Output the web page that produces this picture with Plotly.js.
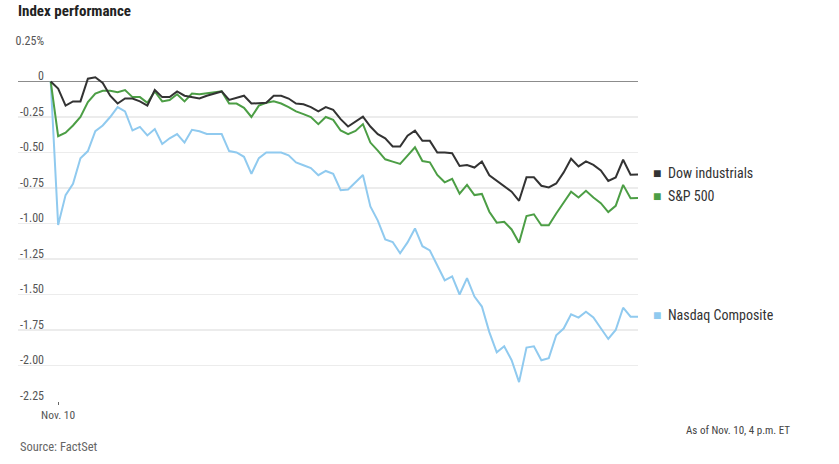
<!DOCTYPE html>
<html>
<head>
<meta charset="utf-8">
<script src="https://cdn.plot.ly/plotly-3.0.1.min.js"></script>
<style>
  html, body { margin: 0; padding: 0; background: #fff; }
  #chart { width: 839px; height: 464px; }
</style>
</head>
<body>
<div id="chart"></div>
<script>
// ---- data (percent change) ----
const seriesNames = ["Dow industrials", "S&P 500", "Nasdaq Composite"];

const dow = [0, -0.05, -0.17, -0.14, -0.14, 0.02, 0.03, -0.01, -0.10, -0.155,
  -0.12, -0.12, -0.14, -0.17, -0.06, -0.11, -0.11, -0.07, -0.10, -0.11,
  -0.12, -0.10, -0.085, -0.07, -0.13, -0.115, -0.10, -0.155, -0.15, -0.15,
  -0.10, -0.10, -0.12, -0.155, -0.16, -0.18, -0.21, -0.18, -0.20, -0.265,
  -0.317, -0.282, -0.247, -0.317, -0.371, -0.40, -0.458, -0.458, -0.381, -0.346,
  -0.418, -0.418, -0.50, -0.50, -0.505, -0.595, -0.588, -0.606, -0.564, -0.66,
  -0.70, -0.74, -0.776, -0.84, -0.675, -0.675, -0.734, -0.746, -0.718, -0.64,
  -0.544, -0.598, -0.563, -0.587, -0.627, -0.70, -0.676, -0.551, -0.657, -0.655];

const sp500 = [0, -0.385, -0.36, -0.31, -0.25, -0.145, -0.085, -0.065, -0.065, -0.075,
  -0.06, -0.11, -0.11, -0.15, -0.07, -0.14, -0.13, -0.09, -0.14, -0.085,
  -0.09, -0.085, -0.08, -0.07, -0.155, -0.155, -0.185, -0.25, -0.17, -0.15,
  -0.14, -0.155, -0.18, -0.21, -0.23, -0.25, -0.30, -0.25, -0.27, -0.345,
  -0.371, -0.348, -0.30, -0.43, -0.487, -0.548, -0.564, -0.58, -0.522, -0.463,
  -0.56, -0.569, -0.658, -0.71, -0.686, -0.79, -0.728, -0.80, -0.792, -0.917,
  -0.994, -0.988, -1.042, -1.135, -0.947, -0.935, -1.012, -1.012, -0.93, -0.853,
  -0.776, -0.817, -0.77, -0.817, -0.857, -0.92, -0.876, -0.728, -0.822, -0.82];

const nasdaq = [0, -1.01, -0.80, -0.72, -0.54, -0.49, -0.35, -0.31, -0.25, -0.18,
  -0.21, -0.345, -0.32, -0.38, -0.335, -0.44, -0.40, -0.37, -0.43, -0.34,
  -0.35, -0.37, -0.37, -0.37, -0.49, -0.50, -0.53, -0.65, -0.54, -0.50,
  -0.50, -0.50, -0.52, -0.57, -0.59, -0.61, -0.66, -0.63, -0.65, -0.765,
  -0.76, -0.71, -0.658, -0.88, -0.98, -1.112, -1.13, -1.21, -1.133, -1.035,
  -1.16, -1.19, -1.295, -1.40, -1.372, -1.50, -1.385, -1.515, -1.585, -1.765,
  -1.907, -1.865, -1.963, -2.117, -1.874, -1.865, -1.963, -1.948, -1.787, -1.74,
  -1.64, -1.663, -1.621, -1.661, -1.738, -1.813, -1.75, -1.593, -1.656, -1.656];

const yTickVals = [0.25, 0, -0.25, -0.5, -0.75, -1.0, -1.25, -1.5, -1.75, -2.0, -2.25];
const yTickText = ["0.25%", "0", "-0.25", "-0.50", "-0.75", "-1.00", "-1.25", "-1.50", "-1.75", "-2.00", "-2.25"];
const xTickVals = [1];
const xTickText = ["Nov. 10"];

// ---- styling ----
const FONT = "'Liberation Sans Narrow', 'Roboto Condensed', Roboto, sans-serif";
const colors = ["#333333", "#4c9e45", "#90caef"];

const idx = dow.map((_, i) => i);
const allSeries = [dow, sp500, nasdaq];

// draw Nasdaq first, Dow on top
const order = [2, 1, 0];
const traces = order.map(k => ({
  type: "scatter",
  mode: "lines",
  x: idx,
  y: allSeries[k],
  name: seriesNames[k],
  line: { color: colors[k], width: 2 },
  hoverinfo: "skip",
  showlegend: false
}));

const last = idx.length - 1;
const labelAnnots = allSeries.map((s, k) => ({
  xref: "x", yref: "y",
  x: last, y: s[last],
  xanchor: "left", yanchor: "middle",
  xshift: 13, yshift: 2,
  showarrow: false,
  align: "left",
  text: '<span style="color:' + colors[k] + '">■</span>  ' + seriesNames[k],
  font: { family: FONT, size: 14, color: "#333" }
}));

const layout = {
  width: 839, height: 464,
  margin: { l: 18, r: 201, t: 46, b: 63, pad: 0 },
  paper_bgcolor: "#fff", plot_bgcolor: "#fff",
  font: { family: FONT, color: "#555" },
  title: {
    text: "<b>Index performance</b>",
    x: 0, xref: "paper", xanchor: "left",
    y: 0.988, yref: "container", yanchor: "top",
    font: { family: FONT, size: 15, color: "#222" }
  },
  xaxis: {
    range: [-4.4, last],
    tickvals: xTickVals, ticktext: xTickText,
    ticks: "outside", ticklen: 3, tickwidth: 1, tickcolor: "#666",
    showgrid: false, zeroline: false, showline: false,
    tickfont: { family: FONT, size: 11.5, color: "#555" },
    fixedrange: true
  },
  yaxis: {
    range: [-2.25, 0.25],
    tickvals: yTickVals, ticktext: yTickText,
    anchor: "free", position: 26 / 620,
    ticklabelposition: "outside top",
    ticklabelshift: 3,
    ticks: "", showline: false,
    showgrid: true, gridcolor: "#ececec", gridwidth: 1.5,
    zeroline: true, zerolinecolor: "#8c8c8c", zerolinewidth: 1.5,
    tickfont: { family: FONT, size: 12, color: "#555" },
    automargin: false,
    fixedrange: true
  },
  annotations: labelAnnots.concat([
    {
      xref: "paper", yref: "paper", x: 0, y: -0.127,
      xanchor: "left", yanchor: "middle", showarrow: false,
      text: "Source: FactSet",
      font: { family: FONT, size: 12.5, color: "#666" }
    },
    {
      xref: "paper", yref: "paper", x: (791.7 - 18) / 620, y: -0.0845,
      xanchor: "right", yanchor: "middle", showarrow: false,
      text: "As of Nov. 10, 4 p.m. ET",
      font: { family: FONT, size: 11, color: "#444" }
    }
  ])
};

Plotly.newPlot("chart", traces, layout, { displayModeBar: false, staticPlot: true });
</script>
</body>
</html>
